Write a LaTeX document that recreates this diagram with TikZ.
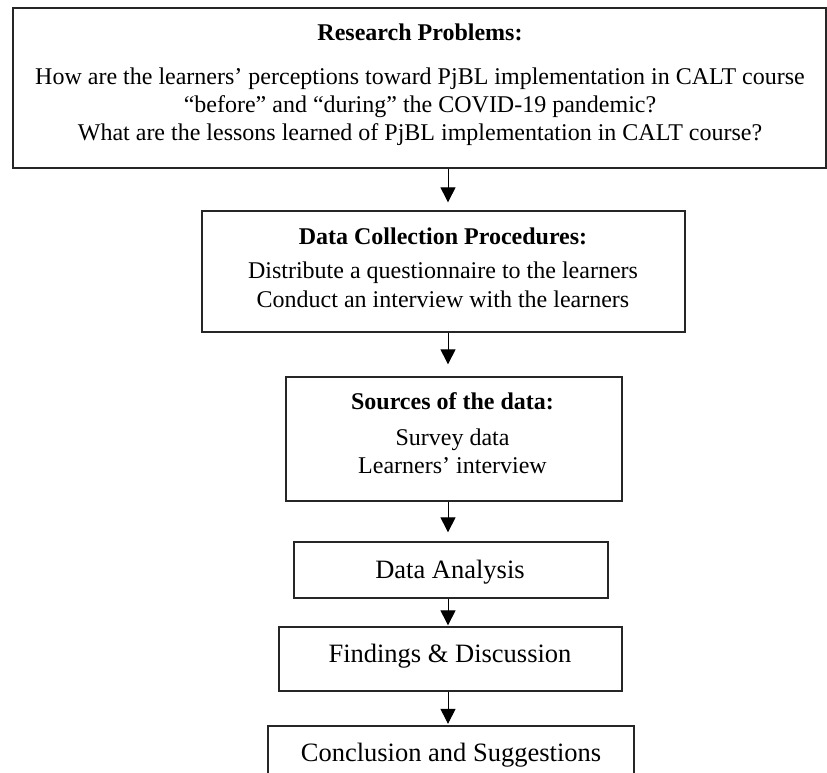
\documentclass[tikz,border=0pt]{standalone}
\usepackage{fontspec}
\setmainfont{Liberation Serif}
\usetikzlibrary{arrows.meta}
\begin{document}
\begin{tikzpicture}[x=1pt,y=-1pt,
  box/.style={draw=black!85,line width=1.3pt,rectangle,inner sep=0pt,anchor=center},
  txt/.style={anchor=base,inner sep=0pt,font=\fontsize{24}{28}\selectfont},
  ttl/.style={txt,font=\fontsize{24}{28}\selectfont\bfseries},
  big/.style={anchor=base,inner sep=0pt,font=\fontsize{26.5}{30}\selectfont},
  arr/.style={draw=black,line width=1pt,-{Triangle[length=15pt,width=15pt]}}]
\useasboundingbox (0,0) rectangle (827,773);
\clip (0,0) rectangle (827,773);
% boxes
\node[box,minimum width=813pt,minimum height=160pt] (rp) at (419.5,88) {};
\node[box,minimum width=483pt,minimum height=121pt] (dc) at (443.5,271.5) {};
\node[box,minimum width=336pt,minimum height=124pt] (sd) at (454,439) {};
\node[box,minimum width=314pt,minimum height=56pt] (da) at (451,570) {};
\node[box,minimum width=343pt,minimum height=64pt] (fd) at (450.5,659) {};
\node[box,minimum width=366pt,minimum height=70pt] (cs) at (451,761) {};
% texts
\node[ttl] (rpt) at (420,41) {Research Problems:};
\node[txt] (rp1) at (420,85) {How are the learners’ perceptions toward PjBL implementation in CALT course};
\node[txt] (rp2) at (420,113) {“before” and “during” the COVID-19 pandemic?};
\node[txt] (rp3) at (420,140) {What are the lessons learned of PjBL implementation in CALT course?};
\node[ttl] (dct) at (443,244) {Data Collection Procedures:};
\node[txt] (dc1) at (443,278) {Distribute a questionnaire to the learners};
\node[txt] (dc2) at (443,307) {Conduct an interview with the learners};
\node[ttl] (sdt) at (452.5,409) {Sources of the data:};
\node[txt] (sd1) at (452.5,445) {Survey data};
\node[txt] (sd2) at (452.5,473) {Learners’ interview};
\node[big] (dat) at (450,578.3) {Data Analysis};
\node[big] (fdt) at (450,662.7) {Findings \& Discussion};
\node[big] (cst) at (451,761) {Conclusion and Suggestions};
% arrows
\coordinate (ax) at (448,0);
\draw[arr,shorten >=8pt] (rp.south -| ax) -- (dc.north -| ax);
\draw[arr,shorten >=12pt] (dc.south -| ax) -- (sd.north -| ax);
\draw[arr,shorten >=9pt] (sd.south -| ax) -- (da.north -| ax);
\draw[arr,shorten >=1pt] (da.south -| ax) -- (fd.north -| ax);
\draw[arr,shorten >=1.5pt] (fd.south -| ax) -- (cs.north -| ax);
\end{tikzpicture}
\end{document}
